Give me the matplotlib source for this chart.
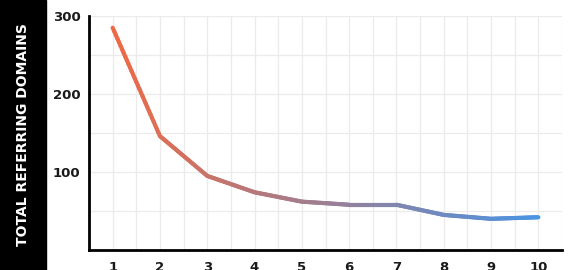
import numpy as np
import matplotlib
matplotlib.use("Agg")
import matplotlib.pyplot as plt
from matplotlib.collections import LineCollection
from matplotlib.patches import Rectangle

# Data
positions = [1, 2, 3, 4, 5, 6, 7, 8, 9, 10]
domains = [285, 146, 95, 74, 62, 58, 58, 45, 40, 42]
y_ticks = [100, 200, 300]
y_label = "TOTAL REFERRING DOMAINS"

start_col = np.array([238, 106, 69]) / 255
end_col = np.array([74, 148, 228]) / 255

fig = plt.figure(figsize=(5.82, 2.70), dpi=100)
ax = fig.add_axes([89 / 582, 20 / 270, (562 - 89) / 582, (250 - 16) / 270])

# black band with the axis title
fig.patches.append(Rectangle((0, 0), 46 / 582, 1, transform=fig.transFigure,
                             color="black", zorder=0))
fig.text(23 / 582, 0.5, y_label, rotation=90, color="white", ha="center",
         va="center", fontsize=10, fontweight="bold", family="DejaVu Sans")

# gradient line: densify segments so colour changes smoothly
x = np.array(positions, dtype=float)
y = np.array(domains, dtype=float)
xs, ys = [], []
for i in range(len(x) - 1):
    t = np.linspace(0, 1, 30, endpoint=False)
    xs.extend(x[i] + (x[i + 1] - x[i]) * t)
    ys.extend(y[i] + (y[i + 1] - y[i]) * t)
xs.append(x[-1])
ys.append(y[-1])
pts = np.column_stack([xs, ys]).reshape(-1, 1, 2)
segs = np.concatenate([pts[:-1], pts[1:]], axis=1)
frac = (np.array(xs[:-1]) - x[0]) / (x[-1] - x[0])
cols = start_col[None, :] * (1 - frac[:, None]) + end_col[None, :] * frac[:, None]
lc = LineCollection(segs, colors=cols, linewidths=3, capstyle="round",
                    joinstyle="round", zorder=3)
ax.add_collection(lc)

ax.set_xlim(0.5, 10.5)
ax.set_ylim(0, 300)
ax.set_xticks(positions)
ax.set_xticks(np.arange(1.5, 10.6, 1), minor=True)
ax.set_yticks(y_ticks)
ax.set_yticks([50, 150, 250], minor=True)
ax.grid(True, which="both", color="#ebebeb", linewidth=0.9, zorder=0)
ax.set_axisbelow(True)

for s in ["top", "right"]:
    ax.spines[s].set_visible(False)
for s in ["left", "bottom"]:
    ax.spines[s].set_linewidth(2)
    ax.spines[s].set_color("black")

ax.tick_params(which="both", length=0)
ax.tick_params(axis="x", pad=8)
ax.tick_params(axis="y", pad=6)
for lab in ax.get_xticklabels() + ax.get_yticklabels():
    lab.set_fontweight("bold")
    lab.set_fontsize(9.5)
    lab.set_color("#1a1a1a")

fig.savefig("out.png", dpi=100)
